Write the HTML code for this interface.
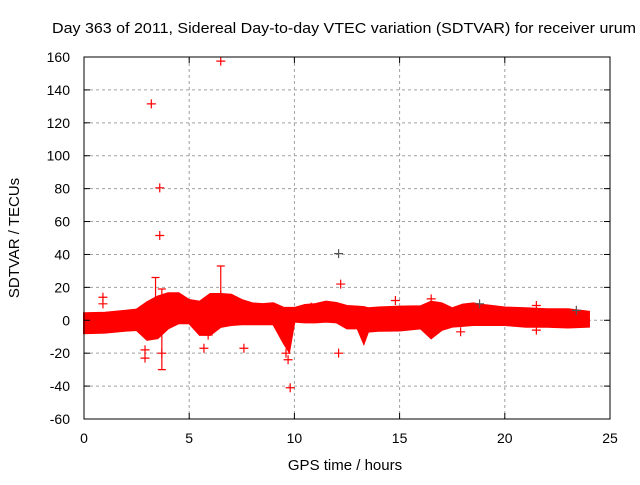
<!DOCTYPE html>
<html><head><meta charset="utf-8"><style>
body{margin:0;background:#fff}
svg text{font-family:"Liberation Sans",Arial,sans-serif;font-size:14px;fill:#000}
</style></head><body>
<svg id="chart" width="640" height="480" viewBox="0 0 640 480" xmlns="http://www.w3.org/2000/svg">
<text x="52" y="33" textLength="584" lengthAdjust="spacingAndGlyphs" style="font-size:15px">Day 363 of 2011, Sidereal Day-to-day VTEC variation (SDTVAR) for receiver urum</text>
<g id="grid"></g>
<g id="band"></g>
<g id="marks"></g>
<rect x="84" y="57" width="526" height="362" fill="none" stroke="#000" stroke-width="1"/>
<g id="ticks"></g>
<text x="345" y="470" text-anchor="middle" style="font-size:15px">GPS time / hours</text>
<text x="0" y="0" text-anchor="middle" style="font-size:15px" transform="translate(19,238) rotate(-90)">SDTVAR / TECUs</text>
</svg>
<script>
const xTicks=[0,5,10,15,20,25];
const yTicks=[160,140,120,100,80,60,40,20,0,-20,-40,-60];
const bandTimes=[0,1,2,2.5,3,3.5,4,4.5,5,5.5,6,6.5,7,7.5,8,8.5,9,9.5,9.75,10,10.5,11,11.5,12,12.5,13,13.3,13.5,14,15,16,16.5,17,17.5,18,18.5,19,20,21,22,23,24];
const bandUpper=[4.3,4.6,5.8,6.5,11,14.4,16.4,16.4,12.3,11.3,16,16,15.5,12.3,10.3,9.8,10.3,7.5,7.5,7.5,9.3,9.8,11.3,10.5,8.7,8.3,8,7.3,7.8,8.3,8.5,11.3,10.3,7.3,9.5,10.3,9.3,7.8,7.3,6.7,6.7,5.2];
const bandLower=[-7.9,-7.5,-6.3,-5.9,-11.9,-10.9,-4.9,-1.8,-1.8,-8.9,-8.9,-4,-2.9,-2.4,-2.4,-2.4,-2.4,-14,-19,-0.8,-1.3,-1.3,-0.8,-1.3,-4.9,-4.9,-14,-6.9,-6.4,-6.2,-4.9,-10.9,-5.9,-3.9,-3.4,-2.9,-2.9,-2.9,-3.9,-3.9,-4.4,-3.9];
const ptTimes=[3.2,3.6,3.6,6.5,12.2,9.8,7.6,2.9,2.9,3.7,0.9,0.9,5.7,12.1,16.5,21.5,21.5,14.8,17.9,9.7,9.6,6.5,5.9,8.0,10.8];
const ptValues=[131.5,80.5,51.5,157.5,22,-41,-17,-18,-23,-20,14,10,-17,-20,13,-6,9,12,-7,-24,-20,15,-9,5,8];
const darkTimes=[12.1,18.8,23.4];
const darkValues=[40.5,10,6];
const errTimes=[3.7,6.5,3.4];
const errLow=[-30,0,10];
const errHigh=[19,33,26];
const NS='http://www.w3.org/2000/svg';
const X=t=>84+t*(526/25);
const Y=v=>57+(160-v)*(362/220);
function mk(tag,attrs,parent){const e=document.createElementNS(NS,tag);for(const k in attrs)e.setAttribute(k,attrs[k]);parent.appendChild(e);return e;}
const grid=document.getElementById('grid'),ticks=document.getElementById('ticks'),band=document.getElementById('band'),marks=document.getElementById('marks');
xTicks.forEach(t=>{
 if(t>0&&t<25){const g=mk('line',{x1:X(t),x2:X(t),y1:57,y2:419,stroke:'#a0a0a0','stroke-dasharray':'3,3'},grid);
 
 }
 const l=mk('line',{x1:X(t),x2:X(t),y1:419,y2:413,stroke:'#000'},ticks);
 
 
 const l2=mk('line',{x1:X(t),x2:X(t),y1:57,y2:63,stroke:'#000'},ticks);
 
 
 const tx=mk('text',{x:X(t),y:443,'text-anchor':'middle'},ticks);tx.textContent=t;
 
 
});
yTicks.forEach(v=>{
 if(v<160&&v>-60){const g=mk('line',{x1:84,x2:610,y1:Y(v),y2:Y(v),stroke:'#a0a0a0','stroke-dasharray':'3,3'},grid);
 
 }
 const l=mk('line',{x1:84,x2:90,y1:Y(v),y2:Y(v),stroke:'#000'},ticks);
 
 
 const l2=mk('line',{x1:604,x2:610,y1:Y(v),y2:Y(v),stroke:'#000'},ticks);
 
 
 const tx=mk('text',{x:70,y:Y(v)+5,'text-anchor':'end'},ticks);tx.textContent=v;
 
 
});
let pts=bandTimes.map((t,i)=>X(t)+','+Y(bandUpper[i]));
pts=pts.concat(bandTimes.map((t,i)=>X(t)+','+Y(bandLower[i])).reverse());
const poly=mk('polygon',{points:pts.join(' '),fill:'#ff0000',stroke:'#ff0000','stroke-width':2},band);


function plus(t,v,c,name){const x=X(t),y=Y(v);
 const p=mk('path',{d:`M${x-4.5},${y}H${x+4.5}M${x},${y-4.5}V${y+4.5}`,stroke:c,'stroke-width':1.2,fill:'none'},marks);
 
 }
errTimes.forEach((t,i)=>{const x=X(t);
 const p=mk('path',{d:`M${x},${Y(errLow[i])}V${Y(errHigh[i])}M${x-4},${Y(errLow[i])}H${x+4}M${x-4},${Y(errHigh[i])}H${x+4}`,stroke:'#ff0000','stroke-width':1.2,fill:'none'},marks);
 
 });
ptTimes.forEach((t,i)=>plus(t,ptValues[i],'#ff0000','outlier-point'));
darkTimes.forEach((t,i)=>plus(t,darkValues[i],'#555','dark-point'));
</script>
</body></html>
